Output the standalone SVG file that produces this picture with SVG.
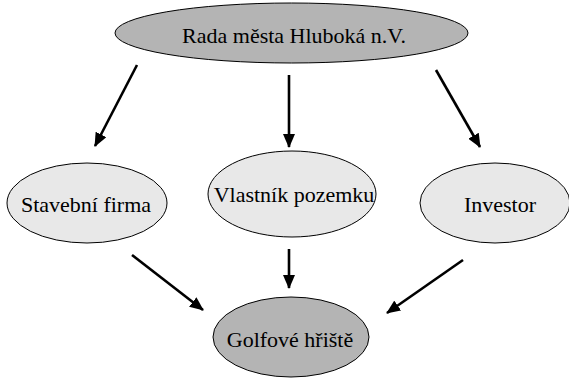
<svg xmlns="http://www.w3.org/2000/svg" width="569" height="378" viewBox="0 0 569 378">
<style>
  .dark { fill: #b4b4b4; stroke: #000; stroke-width: 1; }
  .light { fill: #e8e8e8; stroke: #000; stroke-width: 1; }
  .lbl { font-family: 'Liberation Serif', 'DejaVu Serif', serif; font-size: 22px; fill: #000; text-anchor: middle; }
  .edge { stroke: #000; stroke-width: 2.6; fill: none; marker-end: url(#arrow); }
</style>
<defs>
  <marker id="arrow" markerUnits="userSpaceOnUse" markerWidth="14" markerHeight="12" viewBox="0 0 14 12" refX="13" refY="6" orient="auto">
    <path d="M0,0 L14,6 L0,12 Z" fill="#000"/>
  </marker>
</defs>
<rect width="569" height="378" fill="#fff"/>
<g id="rada">
  <ellipse class="dark" cx="291.5" cy="33" rx="176.5" ry="30"/>
  <text class="lbl" x="294" y="43">Rada města Hluboká n.V.</text>
</g>
<g id="stavebni">
  <ellipse class="light" cx="87" cy="203" rx="80" ry="40"/>
  <text class="lbl" x="86" y="212">Stavební firma</text>
</g>
<g id="vlastnik">
  <ellipse class="light" cx="292" cy="194" rx="84" ry="43"/>
  <text class="lbl" x="294" y="202">Vlastník pozemku</text>
</g>
<g id="investor">
  <ellipse class="light" cx="495" cy="203" rx="75" ry="40"/>
  <text class="lbl" x="500" y="212">Investor</text>
</g>
<g id="golf">
  <ellipse class="dark" cx="291" cy="337" rx="78" ry="40"/>
  <text class="lbl" x="290" y="347">Golfové hřiště</text>
</g>
<g id="connectors">
  <line class="edge" x1="137" y1="65" x2="95" y2="146"/>
  <line class="edge" x1="289" y1="75" x2="289" y2="147"/>
  <line class="edge" x1="436" y1="70" x2="480" y2="147"/>
  <line class="edge" x1="132" y1="255" x2="203" y2="310"/>
  <line class="edge" x1="289" y1="249" x2="289" y2="288"/>
  <line class="edge" x1="463" y1="260" x2="387" y2="313"/>
</g>
</svg>
